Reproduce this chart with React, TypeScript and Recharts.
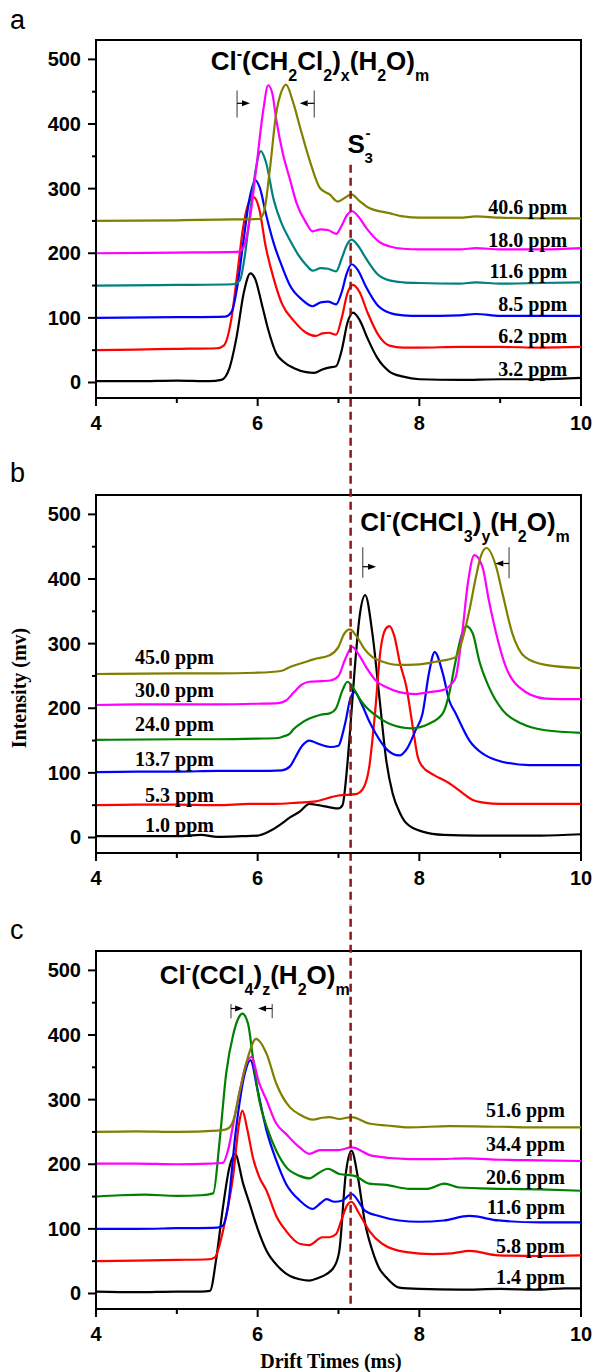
import React from 'react';
import { LineChart, Line, XAxis, YAxis, ReferenceLine, ReferenceDot, ReferenceArea } from 'recharts';

type Pt = [number, number];
type Part = [string, 'n' | 'sub' | 'sup'];

const X_TICKS = [4, 5, 6, 7, 8, 9, 10];
const Y_TICKS = [0, 50, 100, 150, 200, 250, 300, 350, 400, 450, 500];
const Y_DOMAIN: [number, number] = [-24, 530];
const S3_X = 7.15;

const SANS = '"Liberation Sans", Arial, sans-serif';
const SERIF = '"Liberation Serif", "Times New Roman", serif';

const COLORS_A = ['#000000', '#ff0000', '#0000ff', '#008080', '#ff00ff', '#808000'];
const COLORS_BC = ['#000000', '#ff0000', '#0000ff', '#008000', '#ff00ff', '#808000'];

// ---- panel a : CH2Cl2 ----
const aLabels = ['3.2 ppm', '6.2 ppm', '8.5 ppm', '11.6 ppm', '18.0 ppm', '40.6 ppm'];
const aLabelY = [10, 61, 111, 162, 210, 260];

const a32: Pt[] = [[4.0,2],[4.5,2],[5.0,3],[5.4,2],[5.55,4],[5.65,22],[5.74,71],[5.83,140],[5.91,169],[5.97,160],[6.05,122],[6.13,82],[6.23,45],[6.32,32],[6.45,22],[6.6,16],[6.7,15],[6.8,20],[6.88,23],[6.97,25],[7.04,50],[7.11,92],[7.18,108],[7.26,97],[7.36,68],[7.48,38],[7.63,17],[7.8,9],[8.0,5],[8.5,4],[9.0,5],[9.5,5],[10.0,7]];
const a62: Pt[] = [[4.0,50],[4.5,51],[5.0,52],[5.5,53],[5.58,57],[5.67,95],[5.75,170],[5.82,240],[5.88,275],[5.95,287],[6.02,268],[6.1,210],[6.2,160],[6.3,122],[6.45,95],[6.6,77],[6.72,72],[6.8,76],[6.88,77],[6.97,74],[7.04,100],[7.11,138],[7.18,151],[7.26,140],[7.36,108],[7.5,72],[7.63,57],[7.8,54],[8.0,54],[8.5,55],[9.0,55],[9.5,54],[10.0,55]];
const a85: Pt[] = [[4.0,100],[5.0,101],[5.6,102],[5.68,110],[5.75,150],[5.82,215],[5.9,285],[5.97,313],[6.03,300],[6.1,262],[6.2,215],[6.3,180],[6.4,150],[6.55,128],[6.68,118],[6.78,124],[6.87,125],[6.97,121],[7.04,140],[7.1,168],[7.16,183],[7.24,174],[7.34,148],[7.48,120],[7.63,108],[7.8,104],[8.0,103],[8.5,104],[8.7,106],[9.0,103],[9.5,103],[10.0,103]];
const a116: Pt[] = [[4.0,150],[5.0,151],[5.7,152],[5.78,158],[5.84,195],[5.9,255],[5.97,325],[6.04,358],[6.1,342],[6.2,282],[6.3,245],[6.4,220],[6.5,198],[6.6,182],[6.68,173],[6.78,177],[6.87,176],[6.97,172],[7.04,192],[7.1,212],[7.16,221],[7.24,212],[7.34,192],[7.48,168],[7.63,158],[7.8,155],[8.0,154],[8.5,153],[8.7,155],[9.0,153],[9.5,154],[10.0,155]];
const a180: Pt[] = [[4.0,200],[5.0,201],[5.75,202],[5.82,208],[5.9,250],[5.98,329],[6.07,422],[6.13,460],[6.18,448],[6.23,407],[6.31,355],[6.4,314],[6.48,278],[6.6,247],[6.68,234],[6.78,237],[6.87,236],[6.97,230],[7.04,243],[7.11,260],[7.17,265],[7.25,256],[7.35,238],[7.5,218],[7.65,210],[7.8,207],[8.0,206],[8.5,206],[8.7,208],[9.0,206],[9.5,206],[10.0,208]];
const a406: Pt[] = [[4.0,250],[5.0,251],[5.5,252],[6.02,253],[6.08,265],[6.15,329],[6.23,417],[6.3,452],[6.35,461],[6.44,433],[6.52,397],[6.64,345],[6.77,301],[6.89,291],[6.99,280],[7.08,286],[7.16,291],[7.25,282],[7.38,270],[7.63,262],[7.8,257],[8.0,255],[8.5,255],[8.7,257],[9.0,255],[9.5,254],[10.0,254]];

// ---- panel b : CHCl3 ----
const bLabels = ['1.0 ppm', '5.3 ppm', '13.7 ppm', '24.0 ppm', '30.0 ppm', '45.0 ppm'];
const bLabelY = [9, 55, 110, 165, 217, 268];

const b10: Pt[] = [[4.0,2],[4.5,2],[5.0,2],[5.3,4],[5.5,1],[5.8,2],[6.0,3],[6.15,10],[6.28,20],[6.4,31],[6.52,40],[6.64,52],[6.75,50],[6.88,47],[7.0,45],[7.05,50],[7.1,100],[7.14,160],[7.2,260],[7.26,341],[7.33,375],[7.42,315],[7.51,212],[7.59,120],[7.67,68],[7.76,38],[7.84,22],[8.04,9],[8.3,4],[8.7,3],[9.0,3],[9.5,3],[10.0,5]];
const b53: Pt[] = [[4.0,50],[4.5,51],[5.0,51],[5.5,50],[5.9,52],[6.2,52],[6.5,54],[6.72,56],[6.9,62],[7.0,65],[7.21,67],[7.3,75],[7.38,109],[7.45,190],[7.52,290],[7.58,322],[7.63,327],[7.69,312],[7.76,270],[7.84,233],[7.92,170],[7.98,125],[8.05,108],[8.12,101],[8.25,92],[8.37,84],[8.5,72],[8.66,58],[8.8,54],[9.0,52],[9.5,52],[10.0,52]];
const b137: Pt[] = [[4.0,101],[4.5,102],[5.0,102],[5.5,103],[6.0,103],[6.3,104],[6.4,110],[6.47,125],[6.55,142],[6.64,150],[6.75,145],[6.9,140],[7.0,142],[7.05,160],[7.09,181],[7.14,212],[7.2,225],[7.28,208],[7.38,180],[7.46,161],[7.6,136],[7.75,127],[7.85,138],[7.95,165],[8.04,192],[8.12,255],[8.19,287],[8.29,254],[8.37,212],[8.45,192],[8.62,150],[8.78,130],[8.95,120],[9.36,112],[10.0,112]];
const b240: Pt[] = [[4.0,151],[5.0,152],[5.5,152],[6.0,153],[6.25,154],[6.31,156],[6.4,161],[6.44,167],[6.54,177],[6.64,184],[6.78,190],[6.89,192],[6.97,200],[7.05,228],[7.11,241],[7.18,232],[7.26,215],[7.34,202],[7.45,190],[7.63,176],[7.9,169],[8.12,176],[8.29,192],[8.37,223],[8.45,274],[8.53,316],[8.58,327],[8.66,316],[8.74,274],[8.86,233],[9.03,197],[9.27,176],[9.56,166],[10.0,162]];
const b300: Pt[] = [[4.0,205],[4.5,206],[5.0,206],[5.5,206],[6.0,207],[6.25,208],[6.35,212],[6.45,225],[6.55,237],[6.64,241],[6.8,242],[6.9,243],[7.0,250],[7.08,275],[7.17,295],[7.25,283],[7.35,262],[7.46,243],[7.6,232],[7.75,225],[7.96,222],[8.12,225],[8.29,228],[8.4,238],[8.45,248],[8.53,316],[8.6,393],[8.68,437],[8.78,419],[8.86,367],[8.95,316],[9.07,264],[9.23,233],[9.56,215],[10.0,214]];
const b450: Pt[] = [[4.0,253],[5.0,254],[5.5,254],[6.0,255],[6.3,258],[6.4,264],[6.55,270],[6.7,276],[6.89,282],[7.0,295],[7.07,315],[7.14,322],[7.22,312],[7.32,292],[7.42,279],[7.55,272],[7.75,267],[8.0,268],[8.2,272],[8.45,279],[8.53,305],[8.62,352],[8.7,403],[8.76,435],[8.83,448],[8.95,419],[9.03,377],[9.15,316],[9.31,279],[9.56,267],[10.0,262]];

// ---- panel c : CCl4 ----
const cLabels = ['1.4 ppm', '5.8 ppm', '11.6 ppm', '20.6 ppm', '34.4 ppm', '51.6 ppm'];
const cLabelY = [15, 63, 123, 170, 220, 273];

const c14: Pt[] = [[4.0,3],[4.5,2],[5.0,3],[5.3,3],[5.41,4],[5.49,56],[5.57,133],[5.65,195],[5.72,216],[5.82,170],[5.9,139],[6.0,100],[6.11,66],[6.25,42],[6.4,27],[6.52,22],[6.64,20],[6.75,24],[6.85,30],[6.95,42],[7.01,66],[7.09,185],[7.16,221],[7.24,180],[7.33,108],[7.42,66],[7.5,40],[7.59,25],[7.75,9],[8.0,7],[8.5,6],[9.0,7],[9.5,6],[9.8,8],[10.0,8]];
const c58: Pt[] = [[4.0,50],[4.5,51],[5.0,52],[5.4,53],[5.47,56],[5.59,108],[5.7,185],[5.77,263],[5.81,283],[5.87,255],[5.94,211],[6.02,180],[6.11,159],[6.23,120],[6.35,97],[6.52,77],[6.64,75],[6.8,87],[6.89,87],[6.97,92],[7.04,115],[7.1,135],[7.16,142],[7.25,125],[7.38,97],[7.54,77],[7.84,64],[8.17,61],[8.4,62],[8.62,66],[8.98,59],[9.5,58],[10.0,59]];
const c116: Pt[] = [[4.0,100],[4.5,100],[5.0,101],[5.5,102],[5.57,105],[5.63,133],[5.73,252],[5.84,340],[5.91,361],[6.0,314],[6.11,252],[6.23,206],[6.35,170],[6.52,144],[6.68,131],[6.78,140],[6.85,146],[6.95,142],[7.05,144],[7.16,154],[7.33,128],[7.5,120],[7.75,113],[8.0,111],[8.3,113],[8.62,120],[8.98,113],[9.5,110],[10.0,110]];
const c206: Pt[] = [[4.0,150],[4.3,152],[4.6,153],[5.0,151],[5.3,152],[5.45,155],[5.53,237],[5.61,340],[5.7,402],[5.77,428],[5.81,433],[5.88,418],[5.94,366],[6.02,299],[6.12,255],[6.23,221],[6.35,196],[6.52,182],[6.64,178],[6.76,187],[6.87,193],[7.01,185],[7.2,182],[7.38,170],[7.59,168],[7.88,162],[8.1,162],[8.31,170],[8.49,164],[8.98,162],[9.5,161],[10.0,159]];
const c344: Pt[] = [[4.0,201],[4.5,201],[5.0,200],[5.4,201],[5.57,202],[5.63,220],[5.7,263],[5.78,314],[5.86,356],[5.92,366],[6.02,325],[6.11,299],[6.23,263],[6.35,247],[6.52,226],[6.64,216],[6.77,222],[7.0,222],[7.16,226],[7.42,213],[7.88,208],[8.2,208],[8.58,209],[9.0,207],[9.5,206],[10.0,205]];
const c516: Pt[] = [[4.0,250],[4.5,251],[5.0,250],[5.5,252],[5.61,254],[5.66,258],[5.7,268],[5.78,314],[5.88,366],[5.98,394],[6.11,371],[6.23,325],[6.4,288],[6.52,277],[6.68,269],[6.8,272],[6.89,273],[7.01,270],[7.16,273],[7.38,263],[7.6,260],[7.88,257],[8.37,259],[9.0,258],[9.5,257],[10.0,257]];

const formulaA: Part[] = [['Cl','n'],['-','sup'],['(CH','n'],['2','sub'],['Cl','n'],['2','sub'],[')','n'],['x','sub'],['(H','n'],['2','sub'],['O)','n'],['m','sub']];
const formulaB: Part[] = [['Cl','n'],['-','sup'],['(CHCl','n'],['3','sub'],[')','n'],['y','sub'],['(H','n'],['2','sub'],['O)','n'],['m','sub']];
const formulaC: Part[] = [['Cl','n'],['-','sup'],['(CCl','n'],['4','sub'],[')','n'],['z','sub'],['(H','n'],['2','sub'],['O)','n'],['m','sub']];

interface Arrow { bx: number; y1: number; y2: number; ay: number; tip: number }

const arrowsA: Arrow[] = [
  { bx: 5.745, y1: 452, y2: 410, ay: 432, tip: 5.905 },
  { bx: 6.7, y1: 452, y2: 410, ay: 432, tip: 6.52 },
];
const arrowsB: Arrow[] = [
  { bx: 7.3, y1: 449, y2: 402, ay: 419, tip: 7.465 },
  { bx: 9.11, y1: 449, y2: 401, ay: 424, tip: 8.94 },
];
const arrowsC: Arrow[] = [
  { bx: 5.67, y1: 448, y2: 426, ay: 441, tip: 5.82 },
  { bx: 6.18, y1: 448, y2: 426, ay: 441, tip: 6.005 },
];

const toRows = (pts: Pt[]) => pts.map(([x, y]) => ({ x, y }));

const XTick = (props: any) => {
  const { x, y, payload } = props;
  const v = payload.value;
  const major = v % 2 === 0;
  return (
    <g>
      <line x1={x} x2={x} y1={y} y2={y + (major ? 8 : 5)} stroke="#000" strokeWidth={2} />
      {major && (
        <text x={x} y={y + 32} textAnchor="middle" fontFamily={SANS} fontWeight="bold" fontSize={20} fill="#000">
          {v}
        </text>
      )}
    </g>
  );
};

const YTick = (props: any) => {
  const { x, y, payload } = props;
  const v = payload.value;
  const major = v % 100 === 0;
  return (
    <g>
      <line x1={x - (major ? 8 : 4)} x2={x} y1={y} y2={y} stroke="#000" strokeWidth={2} />
      {major && (
        <text x={x - 15} y={y + 7} textAnchor="end" fontFamily={SANS} fontWeight="bold" fontSize={20} fill="#000">
          {v}
        </text>
      )}
    </g>
  );
};

const Formula = ({ x, y, parts }: { x: number; y: number; parts: Part[] }) => {
  let shift = 0;
  return (
    <text x={x} y={y} fontFamily={SANS} fontWeight="bold" fontSize={26} fill="#000">
      {parts.map(([t, k], i) => {
        const target = k === 'sub' ? 11 : k === 'sup' ? -11 : 0;
        const dy = target - shift;
        shift = target;
        return (
          <tspan key={i} dy={dy} fontSize={k === 'n' ? 26 : 16}>
            {t}
          </tspan>
        );
      })}
    </text>
  );
};

const arrowShape = (p: any) => {
  const { x1, y1, x2, y2 } = p;
  const dx = x2 - x1;
  const dy = y2 - y1;
  const len = Math.hypot(dx, dy) || 1;
  const ux = dx / len;
  const uy = dy / len;
  const bx = x2 - ux * 8;
  const by = y2 - uy * 8;
  return (
    <g>
      <line x1={x1} y1={y1} x2={bx} y2={by} stroke="#000" strokeWidth={1.2} />
      <polygon points={`${x2},${y2} ${bx - uy * 3},${by + ux * 3} ${bx + uy * 3},${by - ux * 3}`} fill="#000" />
    </g>
  );
};

interface PanelProps {
  top: number;
  height: number;
  mTop: number;
  mBottom: number;
  series: Pt[][];
  colors: string[];
  labels: string[];
  labelX: number;
  labelY: number[];
  formula: Part[];
  formulaAt: [number, number];
  arrows: Arrow[];
  dash: [number, number];
  s3?: [number, number];
}

const Panel = (p: PanelProps) => (
  <div style={{ position: 'absolute', left: 0, top: p.top }}>
    <LineChart width={595} height={p.height} margin={{ top: p.mTop, right: 14, bottom: p.mBottom - 30, left: 36 }}>
      <XAxis
        dataKey="x"
        type="number"
        domain={[4, 10]}
        ticks={X_TICKS}
        interval={0}
        allowDataOverflow
        height={30}
        tickSize={0}
        tickMargin={0}
        tickLine={false}
        tick={XTick}
        axisLine={{ stroke: '#000', strokeWidth: 2 }}
      />
      <YAxis
        type="number"
        domain={Y_DOMAIN}
        ticks={Y_TICKS}
        interval={0}
        allowDataOverflow
        width={60}
        tickSize={0}
        tickMargin={0}
        tickLine={false}
        tick={YTick}
        axisLine={{ stroke: '#000', strokeWidth: 2 }}
      />
      <ReferenceArea x1={4} x2={10} y1={Y_DOMAIN[0]} y2={Y_DOMAIN[1]} fill="none" stroke="#000" strokeWidth={2} />
      {p.series.map((pts, i) => (
        <Line
          key={i}
          data={toRows(pts)}
          dataKey="y"
          type="monotone"
          stroke={p.colors[i]}
          strokeWidth={2.2}
          dot={false}
          activeDot={false}
          isAnimationActive={false}
        />
      ))}
      <ReferenceLine
        segment={[{ x: S3_X, y: p.dash[0] }, { x: S3_X, y: p.dash[1] }]}
        stroke="#8b1a1a"
        strokeWidth={2.5}
        strokeDasharray="8 5"
        ifOverflow="visible"
      />
      {p.arrows.map((a, i) => (
        <ReferenceLine
          key={`bar-${i}`}
          segment={[{ x: a.bx, y: a.y1 }, { x: a.bx, y: a.y2 }]}
          stroke="#555"
          strokeWidth={1.2}
          ifOverflow="visible"
        />
      ))}
      {p.arrows.map((a, i) => (
        <ReferenceLine
          key={`arr-${i}`}
          segment={[{ x: a.bx, y: a.ay }, { x: a.tip, y: a.ay }]}
          ifOverflow="visible"
          shape={arrowShape}
        />
      ))}
      {p.labels.map((t, i) => (
        <ReferenceDot
          key={`lab-${i}`}
          x={p.labelX}
          y={p.labelY[i]}
          r={0}
          ifOverflow="visible"
          shape={(d: any) => (
            <text x={d.cx} y={d.cy} textAnchor="end" fontFamily={SERIF} fontWeight="bold" fontSize={20} fill="#000">
              {t}
            </text>
          )}
        />
      ))}
      <ReferenceDot
        x={p.formulaAt[0]}
        y={p.formulaAt[1]}
        r={0}
        ifOverflow="visible"
        shape={(d: any) => <Formula x={d.cx} y={d.cy} parts={p.formula} />}
      />
      {p.s3 && (
        <ReferenceDot
          x={p.s3[0]}
          y={p.s3[1]}
          r={0}
          ifOverflow="visible"
          shape={(d: any) => (
            <g fontFamily={SANS} fontWeight="bold" fill="#000">
              <text x={d.cx} y={d.cy} fontSize={26}>S</text>
              <text x={d.cx + 18} y={d.cy - 15} fontSize={15}>-</text>
              <text x={d.cx + 17} y={d.cy + 10} fontSize={15}>3</text>
            </g>
          )}
        />
      )}
    </LineChart>
  </div>
);

export default function App() {
  return (
    <div style={{ position: 'absolute', left: 0, top: 0, width: 595, height: 1372, background: '#fff', overflow: 'hidden' }}>
      <Panel
        top={0}
        height={450}
        mTop={40}
        mBottom={52}
        series={[a32, a62, a85, a116, a180, a406]}
        colors={COLORS_A}
        labels={aLabels}
        labelX={9.83}
        labelY={aLabelY}
        formula={formulaA}
        formulaAt={[5.42, 484]}
        arrows={arrowsA}
        dash={[337, -110]}
        s3={[7.11, 355]}
      />
      <Panel
        top={450}
        height={455}
        mTop={45}
        mBottom={52}
        series={[b10, b53, b137, b240, b300, b450]}
        colors={COLORS_BC}
        labels={bLabels}
        labelX={5.46}
        labelY={bLabelY}
        formula={formulaB}
        formulaAt={[7.27, 475]}
        arrows={arrowsB}
        dash={[620, -110]}
      />
      <Panel
        top={905}
        height={467}
        mTop={46}
        mBottom={63}
        series={[c14, c58, c116, c206, c344, c516]}
        colors={COLORS_BC}
        labels={cLabels}
        labelX={9.8}
        labelY={cLabelY}
        formula={formulaC}
        formulaAt={[4.79, 479]}
        arrows={arrowsC}
        dash={[620, -24]}
      />
      <svg width={595} height={1372} style={{ position: 'absolute', left: 0, top: 0, pointerEvents: 'none' }}>
        <g fontFamily={SANS} fontSize={27} fill="#000">
          <text x={10} y={29}>a</text>
          <text x={10} y={482}>b</text>
          <text x={10} y={939}>c</text>
        </g>
        <text
          x={26}
          y={688}
          transform="rotate(-90 26 688)"
          textAnchor="middle"
          fontFamily={SERIF}
          fontWeight="bold"
          fontSize={20}
          fill="#000"
        >
          Intensity (mv)
        </text>
        <text x={331} y={1368} textAnchor="middle" fontFamily={SERIF} fontWeight="bold" fontSize={20} fill="#000">
          Drift Times (ms)
        </text>
      </svg>
    </div>
  );
}
